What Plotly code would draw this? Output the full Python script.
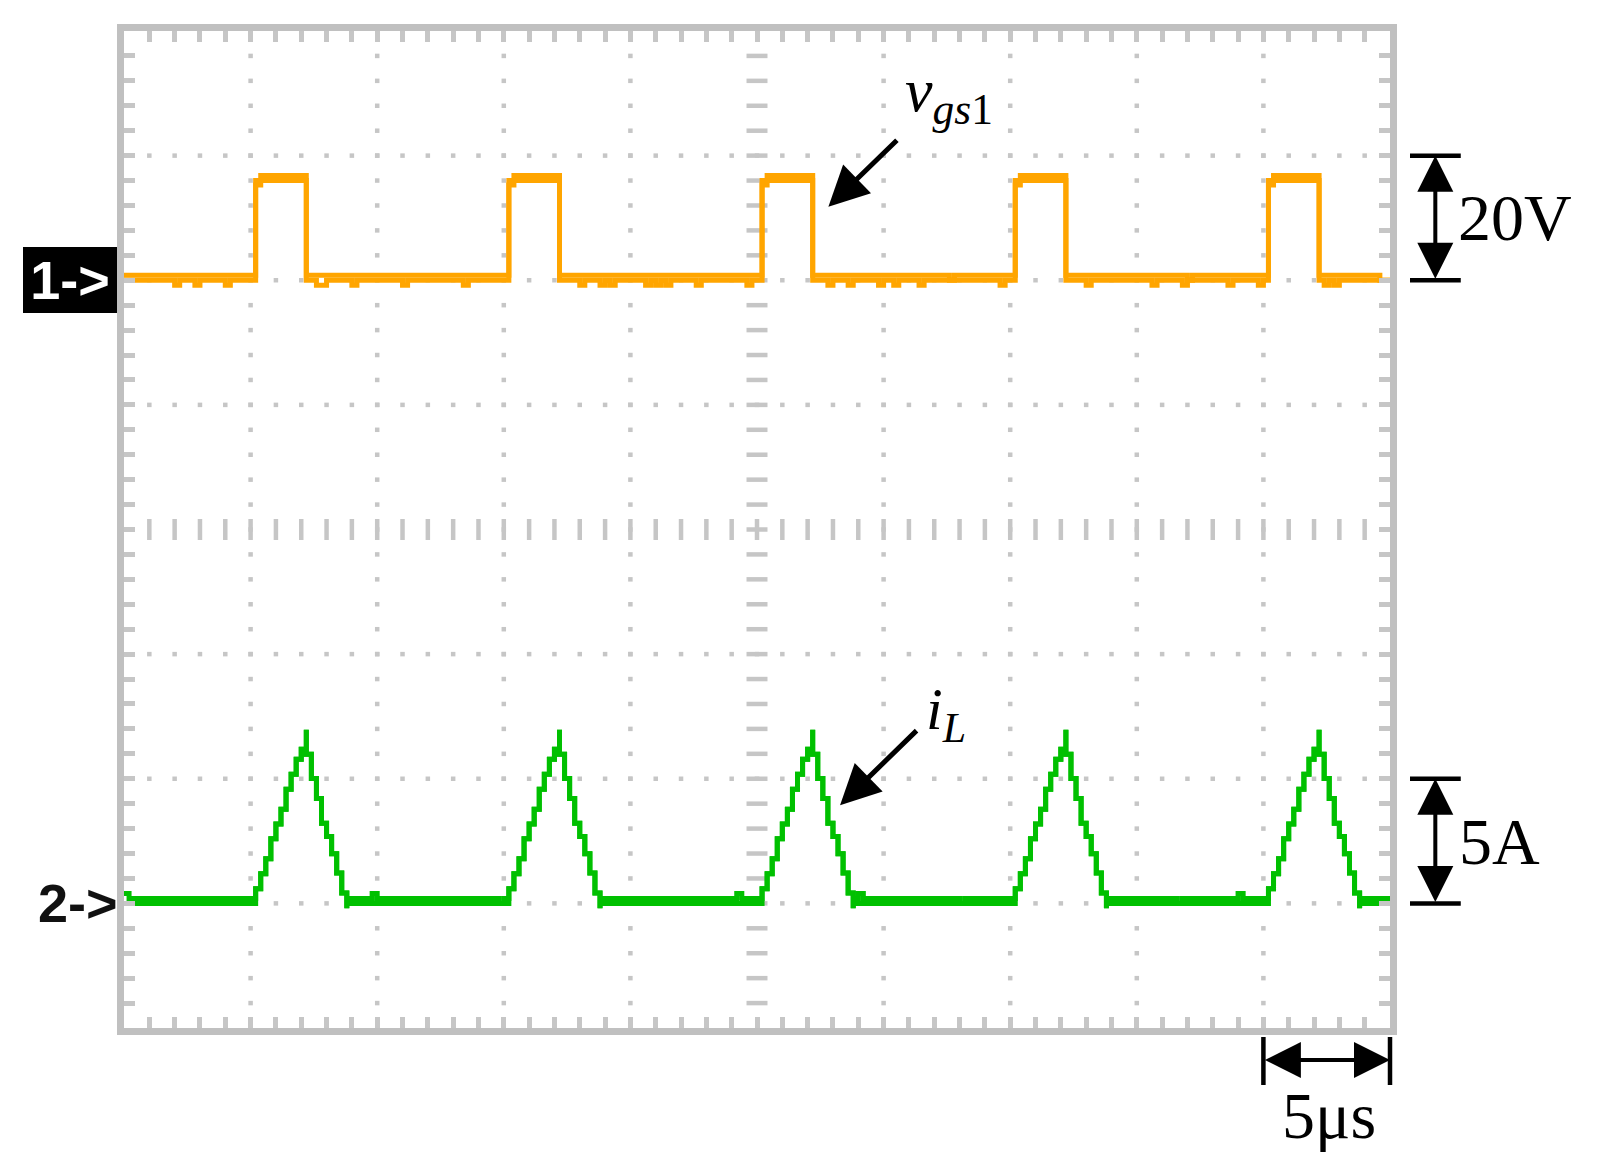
import plotly.graph_objects as go

# ---------------- scope settings ----------------
time_range = [0.0, 50.0]        # us   (5 us/div, 10 div)
volt_range = [-120.0, 40.0]     # V    (20 V/div, CH1 ground 2 div below top)
amp_range = [-5.0, 35.0]        # A    (5 A/div, CH2 ground 1 div above bottom)
sample_step = 0.2               # us between scope samples

# ---------------- channel 1 : v_gs1 ----------------
pulse_rise = [5.2, 15.2, 25.2, 35.2, 45.2]
pulse_fall = [7.2, 17.2, 27.2, 37.2, 47.2]
vgs_on_band = [16.0, 16.8]      # min / max of displayed band while on
vgs_on_first = [15.3, 16.0]     # first sample after rising edge
vgs_off_band = [0.0, 0.8]
vgs_dip_level = -0.8
vgs_dip_times = [2.0, 2.8, 4.0, 7.6, 7.8, 9.0, 11.0, 13.4, 18.0, 18.8, 19.2, 20.6,
                 21.0, 21.4, 22.6, 24.6, 27.8, 28.6, 29.8, 30.4, 31.4, 34.6, 38.0,
                 40.6, 41.8, 43.6, 44.8, 47.4, 47.8]
vgs_thin_times = [32.6, 42.0, 49.6, 49.8, 50.0]

# ---------------- channel 2 : i_L ----------------
iL_ramp = [0.59, 1.19, 1.79, 2.59, 3.18, 3.78, 4.58, 5.18, 5.78, 6.18,
           5.98, 5.01, 4.21, 3.21, 2.68, 1.99, 1.22, 0.42]
iL_peak = 6.97
iL_peak_index = 10
iL_undershoot = -0.2
iL_off_band = [0.0, 0.2]
iL_bump_level = 0.4
iL_bump_times = [0.0, 9.8, 24.2, 29.0, 44.0]
iL_thin_times = [14.8, 33.0, 41.6]

# ---------------- scale-bar labels ----------------
volt_bar = 20.0
amp_bar = 5.0
time_bar = 5.0

n_samples = int(round((time_range[1] - time_range[0]) / sample_step))


def idx(t):
    return int(round((t - time_range[0]) / sample_step))


rise_idx = [idx(t) for t in pulse_rise]
fall_idx = [idx(t) for t in pulse_fall]
vgs_dip_idx = {idx(t) for t in vgs_dip_times}
vgs_thin_idx = {idx(t) for t in vgs_thin_times}
iL_bump_idx = {idx(t) for t in iL_bump_times}
iL_thin_idx = {idx(t) for t in iL_thin_times}


def vgs_envelope(which):
    xs, ys = [], []
    for k in range(n_samples + 1):
        t = time_range[0] + k * sample_step
        on = next((r for r, f in zip(rise_idx, fall_idx) if r <= k < f), None)
        if on is not None:
            v = (vgs_on_first if k == on else vgs_on_band)[which]
        else:
            v = vgs_off_band[which]
            if which == 0 and k in vgs_dip_idx:
                v = vgs_dip_level
            if which == 1 and k in vgs_thin_idx:
                v = vgs_off_band[0]
        xs.append(t)
        ys.append(v)
    return xs, ys


def iL_envelope(which):
    xs, ys = [], []
    for k in range(n_samples + 1):
        t = time_range[0] + k * sample_step
        base = iL_off_band[which]
        if which == 1 and k in iL_thin_idx:
            base = iL_off_band[0]
        if which == 1 and k in iL_bump_idx:
            base = iL_bump_level
        j = next((k - r for r in rise_idx if 0 <= k - r <= len(iL_ramp)), None)
        if j is not None and j < len(iL_ramp):
            if j == iL_peak_index:
                xs.append(t)
                ys.append(iL_peak)
            xs.append(t)
            ys.append(iL_ramp[j])
        elif j == len(iL_ramp):
            xs.append(t)
            ys.append(iL_undershoot)
            xs.append(t)
            ys.append(base)
        else:
            xs.append(t)
            ys.append(base)
    return xs, ys


# ---------------- graticule helpers ----------------
t_div = (time_range[1] - time_range[0]) / 10
v_div = (volt_range[1] - volt_range[0]) / 8
t_minor = [time_range[0] + i * t_div / 5 for i in range(1, 50)]
v_minor = [volt_range[0] + i * v_div / 5 for i in range(1, 40)]
t_major = [time_range[0] + i * t_div for i in range(1, 10)]
v_major = [volt_range[0] + i * v_div for i in range(1, 8)]
t_center = time_range[0] + 5 * t_div
v_center = volt_range[0] + 4 * v_div

GRID = "#c6c6c6"
FRAME = "#c0c0c0"
ORANGE = "#ffa500"
GREEN = "#00c000"
SERIF = "Liberation Serif"
TRACE_W = 5

fig = go.Figure()

# dotted graticule
dx, dy = [], []
for tm in t_major:
    if abs(tm - t_center) < 1e-9:
        continue
    for vm in v_minor:
        dx.append(tm)
        dy.append(vm)
for vm in v_major:
    if abs(vm - v_center) < 1e-9:
        continue
    for tm in t_minor:
        dx.append(tm)
        dy.append(vm)
fig.add_trace(go.Scatter(x=dx, y=dy, mode="markers", hoverinfo="skip",
                         marker=dict(symbol="square", size=4.5, color=GRID,
                                     line=dict(width=0))))
# centre cross ticks
fig.add_trace(go.Scatter(x=t_minor, y=[v_center] * len(t_minor), mode="markers",
                         hoverinfo="skip",
                         marker=dict(symbol="line-ns", size=15,
                                     line=dict(width=4.5, color=GRID))))
fig.add_trace(go.Scatter(x=[t_center] * len(v_minor), y=v_minor, mode="markers",
                         hoverinfo="skip",
                         marker=dict(symbol="line-ew", size=15,
                                     line=dict(width=4.5, color=GRID))))

# channel traces (min/max envelope, like a peak-detect display)
for which in (0, 1):
    x, y = vgs_envelope(which)
    fig.add_trace(go.Scatter(x=x, y=y, mode="lines", line_shape="hv",
                             line=dict(color=ORANGE, width=TRACE_W), name="v_gs1"))
for which in (0, 1):
    x, y = iL_envelope(which)
    fig.add_trace(go.Scatter(x=x, y=y, mode="lines", line_shape="hv", yaxis="y2",
                             line=dict(color=GREEN, width=TRACE_W), name="i_L"))


def xfrac(t):
    return (t - time_range[0]) / (time_range[1] - time_range[0])


shapes = []
annotations = []

# 20 V scale bar
bar_x = 1.0358
for v in (0.0, volt_bar):
    shapes.append(dict(type="line", xref="paper", yref="y", x0=1.0158, x1=1.0559,
                       y0=v, y1=v, line=dict(color="black", width=4.5)))
annotations.append(dict(xref="paper", yref="y", x=bar_x, y=volt_bar, text="",
                        showarrow=True, axref="pixel", ax=0, ayref="y", ay=0.0,
                        arrowside="end+start", arrowhead=2, startarrowhead=2,
                        arrowsize=1.8, startarrowsize=1.8, arrowwidth=4,
                        arrowcolor="black"))
annotations.append(dict(xref="paper", yref="y", x=1.0987, y=volt_bar / 2,
                        text=f"{volt_bar:.0f}V", showarrow=False,
                        font=dict(family=SERIF, size=66, color="black"),
                        xanchor="center", yanchor="middle"))

# 5 A scale bar
for a in (0.0, amp_bar):
    shapes.append(dict(type="line", xref="paper", yref="y2", x0=1.0158, x1=1.0559,
                       y0=a, y1=a, line=dict(color="black", width=4.5)))
annotations.append(dict(xref="paper", yref="y2", x=bar_x, y=amp_bar, text="",
                        showarrow=True, axref="pixel", ax=0, ayref="y2", ay=0.0,
                        arrowside="end+start", arrowhead=2, startarrowhead=2,
                        arrowsize=1.8, startarrowsize=1.8, arrowwidth=4,
                        arrowcolor="black"))
annotations.append(dict(xref="paper", yref="y2", x=1.0861, y=amp_bar / 2,
                        text=f"{amp_bar:.0f}A", showarrow=False,
                        font=dict(family=SERIF, size=66, color="black"),
                        xanchor="center", yanchor="middle"))

# 5 us scale bar
t_end = time_range[1]
t_start = t_end - time_range[1] / 10
for t in (t_start, t_end):
    shapes.append(dict(type="line", xref="x domain", yref="paper", x0=xfrac(t), x1=xfrac(t),
                       y0=-0.009, y1=-0.0572, line=dict(color="black", width=4.5)))
annotations.append(dict(xref="x", yref="paper", x=t_end, y=-0.0321, text="",
                        showarrow=True, axref="x", ax=t_start, ayref="pixel", ay=0,
                        arrowside="end+start", arrowhead=2, startarrowhead=2,
                        arrowsize=1.8, startarrowsize=1.8, arrowwidth=4,
                        arrowcolor="black"))
annotations.append(dict(xref="x", yref="paper", x=(t_start + t_end) / 2 + 0.1, y=-0.088,
                        text=f"{time_bar:.0f}&mu;s", showarrow=False,
                        font=dict(family=SERIF, size=66, color="black"),
                        xanchor="center", yanchor="middle"))

# channel ground markers
annotations.append(dict(xref="paper", yref="y", x=-0.00553, y=0.0, text="<b>1-&gt;</b>",
                        showarrow=False, bgcolor="black", width=94, height=66,
                        borderpad=0, borderwidth=0, align="center", valign="middle",
                        font=dict(family="Liberation Sans", size=54, color="white"),
                        xanchor="right", yanchor="middle"))
annotations.append(dict(xref="paper", yref="y2", x=-0.0367, y=0.0, text="<b>2-&gt;</b>",
                        showarrow=False,
                        font=dict(family="Liberation Sans", size=54, color="#111111"),
                        xanchor="center", yanchor="middle"))

# signal labels with pointer arrows
annotations.append(dict(xref="x", yref="y", x=27.82, y=11.8, text="", showarrow=True,
                        ax=70, ay=-68, arrowhead=2, arrowsize=1.6, arrowwidth=5,
                        arrowcolor="black"))
annotations.append(dict(xref="x", yref="y", x=30.75, y=29.8,
                        text="<i>v</i><sub><i>gs</i>1</sub>", showarrow=False,
                        font=dict(family=SERIF, size=62, color="black"),
                        xanchor="left", yanchor="middle"))
annotations.append(dict(xref="x", yref="y2", x=28.28, y=3.94, text="", showarrow=True,
                        ax=78, ay=-76, arrowhead=2, arrowsize=1.6, arrowwidth=5,
                        arrowcolor="black"))
annotations.append(dict(xref="x", yref="y2", x=31.6, y=7.6,
                        text="<i>i</i><sub><i>L</i></sub>", showarrow=False,
                        font=dict(family=SERIF, size=60, color="black"),
                        xanchor="left", yanchor="middle"))

axis_common = dict(showgrid=False, zeroline=False, showticklabels=False,
                   showline=True, linewidth=7, linecolor=FRAME, mirror="ticks",
                   ticks="inside", ticklen=11, tickwidth=4.5, tickcolor=GRID,
                   fixedrange=True)

# the page body adds an 8 px margin; plot area kept at x 124-1390, y 31-1028 in the window
fig.update_layout(
    width=1583, height=1149,
    margin=dict(l=116, r=201, t=23, b=129),
    paper_bgcolor="white", plot_bgcolor="white",
    showlegend=False,
    xaxis=dict(range=time_range, tickmode="array", tickvals=t_minor, **axis_common),
    yaxis=dict(range=volt_range, tickmode="array", tickvals=v_minor, **axis_common),
    yaxis2=dict(range=amp_range, overlaying="y", visible=False, fixedrange=True),
    shapes=shapes,
    annotations=annotations,
)

fig.write_html("out.html")
